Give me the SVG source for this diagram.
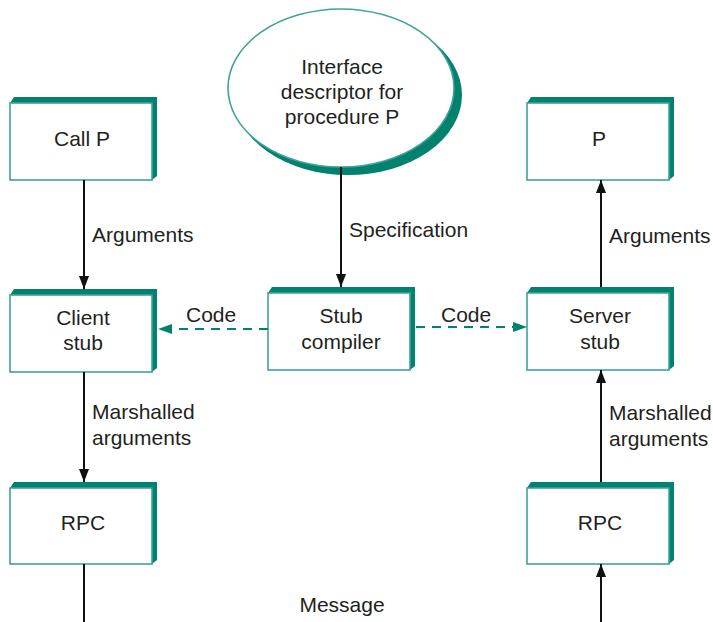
<svg xmlns="http://www.w3.org/2000/svg" width="713" height="622" viewBox="0 0 713 622">
<style>
.sh{fill:#00826f;}
.bx{fill:#fff;stroke:#3fa398;stroke-width:1.6;}
.t{font-family:"Liberation Sans",Arial,sans-serif;font-size:21px;fill:#231f20;text-anchor:middle;}
.l{font-family:"Liberation Sans",Arial,sans-serif;font-size:21px;fill:#231f20;}
.ln{stroke:#111;stroke-width:2;fill:none;}
.dl{stroke:#00826f;stroke-width:2;stroke-dasharray:9,7;fill:none;}
</style>
<defs>
<marker id="ab" viewBox="0 0 13 10" refX="13" refY="5" markerWidth="13" markerHeight="10" markerUnits="userSpaceOnUse" orient="auto">
<path d="M0,0 L13,5 L0,10 Z" fill="#111"/>
</marker>
<marker id="at" viewBox="0 0 14 10" refX="14" refY="5" markerWidth="14" markerHeight="10" markerUnits="userSpaceOnUse" orient="auto">
<path d="M0,0 L14,5 L0,10 Z" fill="#00826f"/>
</marker>
</defs>

<g id="interface">
<ellipse class="sh" cx="348" cy="95" rx="114" ry="80"/>
<ellipse fill="#fff" stroke="#3fa398" stroke-width="1.6" cx="341" cy="88" rx="113" ry="79"/>
<text class="t" x="342" y="74">Interface</text>
<text class="t" x="342" y="99">descriptor for</text>
<text class="t" x="342" y="124">procedure P</text>
</g>

<g id="callp">
<path class="sh" d="M10,103 L14,97 L157,97 L157,176 L152,180 L152,103 Z"/>
<rect class="bx" x="10" y="103" width="142" height="77"/>
<text class="t" x="82" y="146">Call P</text>
</g>

<g id="p">
<path class="sh" d="M527,103 L531,97 L674,97 L674,176 L669,180 L669,103 Z"/>
<rect class="bx" x="527" y="103" width="142" height="77"/>
<text class="t" x="599" y="146">P</text>
</g>

<g id="clientstub">
<path class="sh" d="M10,295 L14,289 L157,289 L157,368 L152,372 L152,295 Z"/>
<rect class="bx" x="10" y="295" width="142" height="77"/>
<text class="t" x="83" y="325">Client</text>
<text class="t" x="83" y="350">stub</text>
</g>

<g id="stubcompiler">
<path class="sh" d="M268,293 L272,287 L415,287 L415,366 L410,370 L410,293 Z"/>
<rect class="bx" x="268" y="293" width="142" height="77"/>
<text class="t" x="341" y="323">Stub</text>
<text class="t" x="341" y="349">compiler</text>
</g>

<g id="serverstub">
<path class="sh" d="M527,293 L531,287 L674,287 L674,366 L669,370 L669,293 Z"/>
<rect class="bx" x="527" y="293" width="142" height="77"/>
<text class="t" x="600" y="323">Server</text>
<text class="t" x="600" y="349">stub</text>
</g>

<g id="rpcleft">
<path class="sh" d="M10,488 L14,482 L157,482 L157,560 L152,564 L152,488 Z"/>
<rect class="bx" x="10" y="488" width="142" height="76"/>
<text class="t" x="83" y="530">RPC</text>
</g>

<g id="rpcright">
<path class="sh" d="M527,488 L531,482 L674,482 L674,560 L669,564 L669,488 Z"/>
<rect class="bx" x="527" y="488" width="142" height="76"/>
<text class="t" x="600" y="530">RPC</text>
</g>

<g id="connectors">
<line class="ln" x1="84" y1="180" x2="84" y2="289" marker-end="url(#ab)"/>
<line class="ln" x1="341" y1="167" x2="341" y2="287" marker-end="url(#ab)"/>
<line class="ln" x1="601" y1="287" x2="601" y2="180" marker-end="url(#ab)"/>
<line class="ln" x1="84" y1="372" x2="84" y2="482" marker-end="url(#ab)"/>
<line class="ln" x1="601" y1="482" x2="601" y2="370" marker-end="url(#ab)"/>
<line class="ln" x1="84" y1="564" x2="84" y2="622"/>
<line class="ln" x1="601" y1="622" x2="601" y2="564" marker-end="url(#ab)"/>
<line class="dl" x1="268" y1="329" x2="158" y2="329" marker-end="url(#at)"/>
<line class="dl" x1="416" y1="327" x2="527" y2="327" marker-end="url(#at)"/>
<text class="l" x="92" y="242">Arguments</text>
<text class="l" x="349" y="237">Specification</text>
<text class="l" x="609" y="243">Arguments</text>
<text class="l" x="92" y="419">Marshalled</text>
<text class="l" x="92" y="445">arguments</text>
<text class="l" x="609" y="420">Marshalled</text>
<text class="l" x="609" y="446">arguments</text>
<text class="l" x="186" y="322">Code</text>
<text class="l" x="441" y="322">Code</text>
<text class="t" x="342" y="612">Message</text>
</g>
</svg>
